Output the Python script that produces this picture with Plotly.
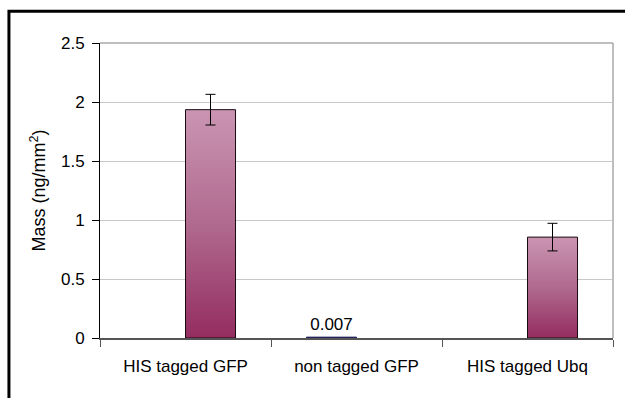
import plotly.graph_objects as go

categories = ["HIS tagged GFP", "non tagged GFP", "HIS tagged Ubq"]
control_values = [None, 0.007, None]
tagged_values = [1.935, None, 0.855]
tagged_errors = [0.13, None, 0.117]
y_ticks = [0, 0.5, 1, 1.5, 2, 2.5]
y_tick_labels = ["0", "0.5", "1", "1.5", "2", "2.5"]

FONT = "Liberation Sans, Arial, sans-serif"

ctrl_x = [c for c, v in zip(categories, control_values) if v is not None]
ctrl_y = [v for v in control_values if v is not None]
tag_x = [c for c, v in zip(categories, tagged_values) if v is not None]
tag_y = [v for v in tagged_values if v is not None]
tag_e = [e for e, v in zip(tagged_errors, tagged_values) if v is not None]

fig = go.Figure()
fig.add_trace(go.Bar(
    x=ctrl_x, y=ctrl_y, name="control", offsetgroup="a", alignmentgroup="g",
    marker=dict(color="#1c1c55", line=dict(color="#1c1c55", width=1)),
    text=["%g" % v for v in ctrl_y],
    textposition="outside", textfont=dict(family=FONT, size=17, color="#000000"),
    cliponaxis=False,
))
fig.add_trace(go.Bar(
    x=tag_x, y=tag_y, name="tagged", offsetgroup="b", alignmentgroup="g",
    marker=dict(color="#b06a8f", line=dict(color="#1a0a12", width=1)),
    error_y=dict(type="data", array=tag_e, visible=True,
                 color="#000000", thickness=1, width=5),
))

fig.update_layout(
    width=625, height=398,
    margin=dict(l=100, r=12, t=43, b=60),
    paper_bgcolor="white", plot_bgcolor="white",
    barmode="group", bargap=0.415, bargroupgap=0,
    showlegend=False,
    font=dict(family=FONT, size=17, color="#000000"),
    xaxis=dict(
        type="category", categoryorder="array", categoryarray=categories,
        tickson="boundaries", ticks="outside", ticklen=7,
        tickcolor="#555555", showline=True, linecolor="#555555", linewidth=2,
        showgrid=False, tickfont=dict(size=17), ticklabelstandoff=12,
    ),
    yaxis=dict(
        range=[0, 2.5], tickvals=y_ticks, ticktext=y_tick_labels,
        ticks="outside", ticklen=7, tickcolor="#000000",
        showline=True, linecolor="#000000", linewidth=1,
        showgrid=True, gridcolor="#c8c8c8", gridwidth=1,
        zeroline=False, ticklabelstandoff=4,
        title=dict(text="Mass (ng/mm<sup>2</sup>)", standoff=10,
                   font=dict(family=FONT, size=18)),
        tickfont=dict(size=17),
    ),
    shapes=[
        dict(type="line", xref="paper", yref="paper", x0=0, x1=1, y0=1, y1=1,
             line=dict(color="#a8a8a8", width=1.5), layer="below"),
        dict(type="line", xref="paper", yref="paper", x0=1, x1=1, y0=0, y1=1,
             line=dict(color="#a8a8a8", width=1.5), layer="below"),
        dict(type="rect", xref="paper", yref="paper", x0=-0.1775, x1=1.2,
             y0=-0.4, y1=1.108, line=dict(color="#000000", width=3)),
    ],
)

post = """
document.body.style.margin = '0';
document.body.style.overflow = 'hidden';
var gd = document.getElementsByClassName('plotly-graph-div')[0];
function applyGrad(){
  var svg = gd.querySelector('svg.main-svg');
  if(!svg) return;
  var ns = 'http://www.w3.org/2000/svg';
  var defs = svg.querySelector('defs');
  if(!defs){ defs = document.createElementNS(ns,'defs'); svg.insertBefore(defs, svg.firstChild); }
  if(!document.getElementById('barGrad')){
    var g = document.createElementNS(ns,'linearGradient');
    g.setAttribute('id','barGrad'); g.setAttribute('x1','0'); g.setAttribute('y1','0');
    g.setAttribute('x2','0'); g.setAttribute('y2','1');
    [['0','#ca95b2'],['0.5','#b06a8f'],['1','#942d60']].forEach(function(s){
      var st = document.createElementNS(ns,'stop');
      st.setAttribute('offset', s[0]); st.setAttribute('stop-color', s[1]);
      g.appendChild(st);
    });
    defs.appendChild(g);
  }
  var traces = gd.querySelectorAll('g.trace.bars');
  if(traces.length > 1){
    traces[1].querySelectorAll('path').forEach(function(p){
      p.style.fill = 'url(#barGrad)';
    });
  }
}
applyGrad();
gd.on('plotly_afterplot', applyGrad);
"""

fig.write_html("out.html", post_script=post, config={"displayModeBar": False})
